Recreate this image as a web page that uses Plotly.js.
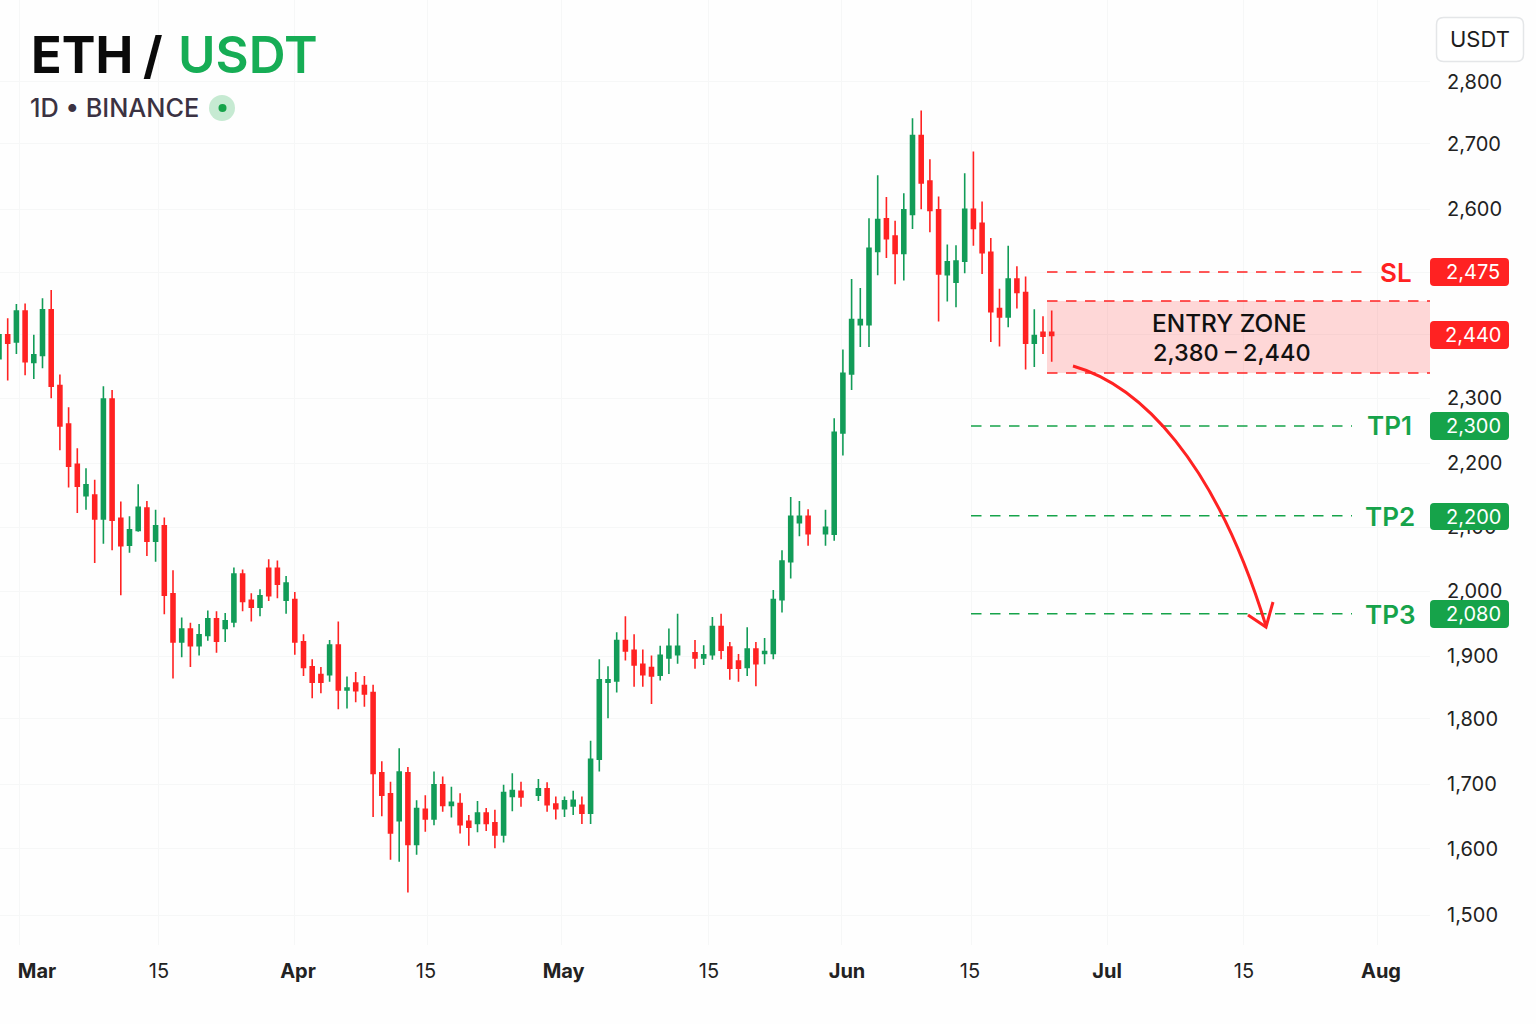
<!DOCTYPE html>
<html><head><meta charset="utf-8">
<script src="https://cdn.plot.ly/plotly-3.0.1.min.js"></script>
<style>html,body{margin:0;padding:0;background:#fff}#c{width:1536px;height:1024px}</style>
</head><body><div id="c"></div>
<script>
const slots = [0,1,2,3,4,5,6,7,8,9,10,11,12,13,14,15,16,17,18,19,20,21,22,23,24,25,26,27,28,29,30,31,32,33,34,35,36,37,38,39,40,41,42,43,44,45,46,47,48,49,50,51,52,53,54,55,56,57,58,59,60,
62,63,64,65,66,67,68,69,70,71,72,73,74,75,76,77,78,
80,81,82,83,84,85,86,87,88,89,90,91,92,93,
95,96,97,98,99,100,101,102,103,104,105,106,107,108,109,110,111,112,113,114,115,116,117,118,119,120,121];
const open = [2368,2405,2394,2442,2362,2373,2444,2326,2266,2203,
2154,2155,2118,2305,2119,2077,2100,2135,2083,2107,
2001,1926,1946,1920,1936,1962,1947,1957,2032,1991,
1980,2041,2041,1991,1992,1926,1887,1875,1875,1921,
1851,1862,1858,1847,1722,1689,1647,1722,1610,1665,
1650,1703,1671,1674,1646,1643,1659,1644,1625,1685,
1693,1687,1697,1673,1666,1670,1671,1659,1743,1863,
1865,1928,1913,1891,1886,1874,1901,1906,1909,1901,
1906,1950,1918,1896,1886,1915,1908,1908,1992,2051,
2112,2122,2095,2094,2252,2344,2421,2421,2535,2586,
2559,2532,2593,2716,2645,2600,2499,2487,2520,2601,
2579,2534,2446,2433,2492,2471,2392,2409,2409];
const high = [2452,2431,2453,2454,2405,2462,2475,2343,2292,2228,
2197,2179,2325,2319,2145,2122,2172,2146,2132,2120,
2038,1964,1956,1954,1975,1974,1971,2042,2039,2002,
2008,2055,2053,2029,2004,1938,1899,1887,1929,1958,
1872,1879,1873,1859,1740,1708,1760,1731,1679,1687,
1724,1716,1700,1690,1656,1678,1667,1664,1703,1721,
1708,1712,1707,1685,1685,1694,1685,1772,1899,1888,
1941,1966,1938,1914,1905,1920,1947,1970,1929,1921,
1965,1970,1926,1907,1949,1926,1932,2007,2069,2152,
2146,2133,2132,2275,2382,2492,2478,2587,2654,2620,
2583,2626,2743,2755,2679,2621,2546,2545,2657,2691,
2613,2556,2477,2544,2512,2496,2445,2434,2443];
const low = [2306,2334,2375,2342,2336,2353,2306,2225,2167,2127,
2132,2049,2079,2069,1999,2065,2098,2060,2051,1969,
1869,1902,1887,1905,1928,1909,1926,1949,1974,1958,
1966,1990,1994,1970,1906,1873,1838,1846,1864,1821,
1822,1832,1825,1653,1654,1586,1583,1535,1594,1630,
1640,1661,1652,1627,1608,1629,1631,1604,1613,1662,
1669,1678,1661,1649,1653,1656,1642,1642,1724,1807,
1847,1897,1856,1856,1829,1866,1876,1892,1884,1890,
1898,1899,1867,1864,1873,1857,1891,1899,1972,2025,
2091,2076,2076,2084,2217,2319,2386,2386,2498,2525,
2484,2490,2570,2601,2565,2426,2457,2448,2501,2544,
2500,2394,2387,2417,2446,2351,2355,2375,2363];
const close = [2405,2392,2442,2363,2374,2444,2325,2263,2200,2169,
2171,2118,2305,2116,2076,2101,2136,2083,2107,1999,
1926,1946,1920,1937,1962,1927,1959,2032,1989,1980,
1998,1998,2016,2018,1926,1886,1863,1863,1921,1851,
1854,1850,1845,1721,1687,1628,1723,1610,1666,1650,
1703,1671,1676,1641,1637,1659,1643,1625,1691,1694,
1684,1697,1672,1666,1678,1679,1659,1743,1867,1867,
1928,1912,1890,1875,1873,1905,1919,1919,1901,1906,
1950,1913,1885,1885,1915,1892,1911,1992,2052,2122,
2122,2095,2105,2253,2345,2429,2429,2540,2585,2555,
2532,2600,2716,2642,2599,2500,2519,2520,2601,2571,
2533,2441,2433,2492,2471,2392,2404,2403,2404];

const xTickVals = [4.37,18.39,34.37,49.08,64.9,81.6,97.47,111.6,127.36,143.1,158.85];
const xTickText = ['<b>Mar</b>','15','<b>Apr</b>','15','<b>May</b>','15','<b>Jun</b>','15','<b>Jul</b>','15','<b>Aug</b>'];
const xGridVals = [2.4,18.39,34,49.2,64.7,81.6,96.8,111.8,127.36,143.1,158.4];
const yTickVals = [1500,1603,1704,1806,1904,2005,2105,2205,2306,2406,2503,2601,2703,2800];
const yTickText = ['1,500','1,600','1,700','1,800','1,900','2,000','2,100','2,200','2,300','','','2,600','2,700','2,800'];

const slLevel = 2503, entryTop = 2458, entryBottom = 2345.5;
const tpLevels = [2263, 2123, 1970];
const tpNames = ['TP1','TP2','TP3'];
const tpBadges = ['2,300','2,200','2,080'];

const RED = '#ff2222', GREEN = '#129c58', TPG = '#16a34a';
const W = 1430, H = 945, FONT = 'Inter, "Noto Sans", sans-serif';
const px = (x,y) => (x/W).toFixed(5)+','+((H-y)/H).toFixed(5);
const slotAt = x => (x+1)/8.7;
const pyVal = y => 1500+(915-y)*1.56;

function rounded(x0,y0,x1,y1,r){
  return 'M'+px(x0+r,y0)+' L'+px(x1-r,y0)+' Q'+px(x1,y0)+' '+px(x1,y0+r)+' L'+px(x1,y1-r)+' Q'+px(x1,y1)+' '+px(x1-r,y1)+' L'+px(x0+r,y1)+' Q'+px(x0,y1)+' '+px(x0,y1-r)+' L'+px(x0,y0+r)+' Q'+px(x0,y0)+' '+px(x0+r,y0)+' Z';
}
function pathShape(path, o){ return Object.assign({type:'path',xref:'paper',yref:'paper',path,layer:'above'},o); }
function hline(level,x0,x1,color){
  return {type:'line',xref:'x',yref:'y',x0:slotAt(x0),x1:slotAt(x1),y0:level,y1:level,layer:'above',
          line:{color,width:1.5,dash:'10.5px,8.5px'}};
}
function ann(text,x,y,size,color,weight,anchor){
  return {text,xref:'paper',yref:'paper',x:x/W,y:(H-y)/H,showarrow:false,xanchor:anchor||'center',yanchor:'middle',
          font:{family:FONT,size,color,weight:weight||400},borderpad:0,borderwidth:0};
}
const badges = [[258,286,RED,'2,475',272],[321,349,RED,'2,440',335],
  [412,440,TPG,tpBadges[0],426],[503,530,TPG,tpBadges[1],516.5],[600,628,TPG,tpBadges[2],614]];

const shapes = [
  {type:'rect',xref:'x',yref:'y',x0:slotAt(1047),x1:slotAt(1430),y0:entryBottom,y1:entryTop,layer:'above',
   fillcolor:'rgba(255,40,40,0.18)',line:{width:0}},
  hline(slLevel,1047,1367,RED), hline(entryTop,1047,1430,RED), hline(entryBottom,1047,1430,RED),
  ...tpLevels.map(l=>hline(l,971,1352,TPG)),
  pathShape('M'+px(1073,366)+' C'+px(1140,385)+' '+px(1215,460)+' '+px(1266,626),{line:{color:RED,width:3}}),
  pathShape('M'+px(1273,602)+' L'+px(1266,627)+' L'+px(1248,615),{line:{color:RED,width:3}}),
  pathShape(rounded(1436.5,17.5,1523.5,61.5,7),{fillcolor:'#ffffff',line:{color:'#e4e6e8',width:1.5}}),
  ...badges.map(b=>pathShape(rounded(1430,b[0],1509,b[1],4),{fillcolor:b[2],line:{width:0}})),
  {type:'circle',xref:'paper',yref:'paper',x0:209/W,x1:235/W,y0:(H-121)/H,y1:(H-95)/H,fillcolor:'#c6ead2',line:{width:0},layer:'above'},
  {type:'circle',xref:'paper',yref:'paper',x0:218.5/W,x1:226.5/W,y0:(H-112)/H,y1:(H-104)/H,fillcolor:'#16a34a',line:{width:0},layer:'above'}
];
const annotations = [
  ann('ETH',31,54,50.5,'#0a0a0a',700,'left'),
  ann('/',153,54,50.5,'#0a0a0a',700),
  ann('USDT',178,54,51,'#16ad55',600,'left'),
  ann('1D • BINANCE',30,107,25.3,'#3b3242',500,'left'),
  ann('USDT',1480,39,22,'#1c1c1c',400),
  ann('SL',1396,272,26,RED,600),
  ...tpNames.map((n,i)=>ann(n,i===0?1389:1390,[426,516,614][i],26,TPG,600)),
  ...badges.map(b=>ann(b[3],1473,b[4],20,'#ffffff',400)),
  ann('ENTRY ZONE',1229,323,24.4,'#111111',500),
  ann('2,380 – 2,440',1232,353,23.5,'#111111',500)
];

Plotly.newPlot('c',[{
  type:'candlestick',x:slots,open,high,low,close,whiskerwidth:0,
  increasing:{line:{color:GREEN,width:1.6},fillcolor:GREEN},
  decreasing:{line:{color:RED,width:1.6},fillcolor:RED},
  showlegend:false,hoverinfo:'skip'
}],{
  width:1536,height:1024,margin:{l:0,r:106,t:0,b:79,pad:0},
  paper_bgcolor:'#fefefe',plot_bgcolor:'#fefefe',showlegend:false,boxgap:0.35,
  font:{family:FONT},
  xaxis:{type:'linear',range:[slotAt(0),slotAt(1430)],rangeslider:{visible:false},
    tickmode:'array',tickvals:xTickVals,ticktext:xTickText,showgrid:false,zeroline:false,showline:false,
    ticks:'outside',ticklen:8,tickcolor:'rgba(0,0,0,0)',tickfont:{family:FONT,size:20,color:'#222222'},tickangle:0,
    minor:{tickmode:'array',tickvals:xGridVals,showgrid:true,gridcolor:'#f6f7f7',gridwidth:1,ticks:''}},
  yaxis:{type:'linear',side:'right',range:[pyVal(945),pyVal(0)],
    tickmode:'array',tickvals:yTickVals,ticktext:yTickText,showgrid:true,gridcolor:'#f6f7f7',gridwidth:1,
    zeroline:false,showline:false,ticks:'outside',ticklen:12,tickcolor:'rgba(0,0,0,0)',
    tickfont:{family:FONT,size:20,color:'#222222'}},
  shapes,annotations
},{displayModeBar:false,staticPlot:true});
</script></body></html>
